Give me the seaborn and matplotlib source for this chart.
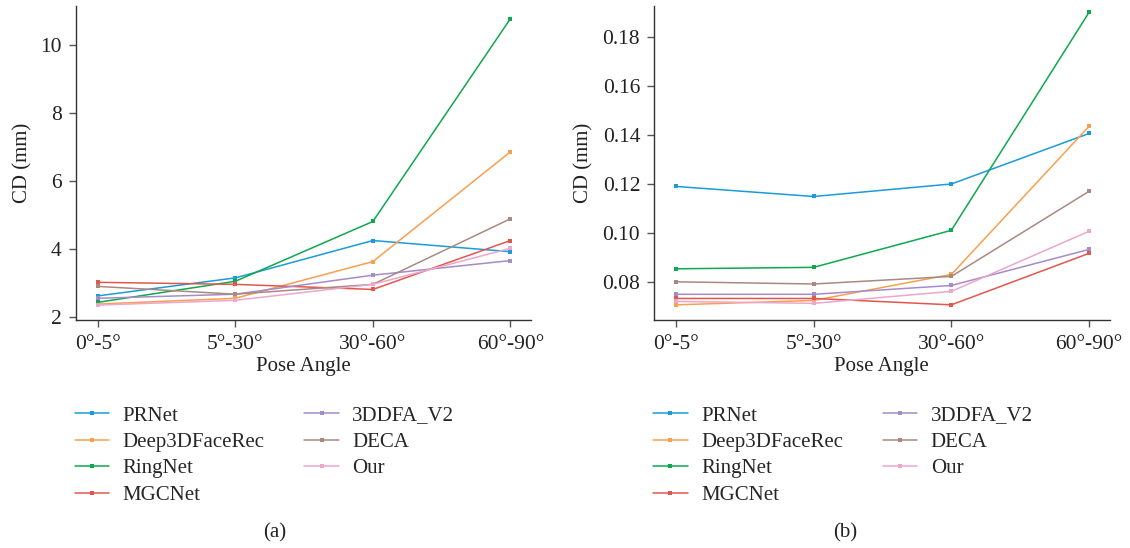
import pandas as pd
import seaborn as sns
import matplotlib.pyplot as plt

#Pose angle bins
angles = ["0°-5°", "5°-30°", "30°-60°", "60°-90°"]
methods = ["PRNet", "Deep3DFaceRec", "RingNet", "MGCNet", "3DDFA_V2", "DECA", "Our"]

#CD (mm) values for panel (a)
cd_a_prnet = [2.62, 3.15, 4.25, 3.92]
cd_a_deep3d = [2.38, 2.55, 3.63, 6.86]
cd_a_ringnet = [2.43, 3.05, 4.81, 10.78]
cd_a_mgcnet = [3.02, 2.96, 2.81, 4.25]
cd_a_3ddfa = [2.55, 2.67, 3.23, 3.66]
cd_a_deca = [2.90, 2.67, 2.96, 4.89]
cd_a_our = [2.35, 2.49, 2.96, 4.02]

#CD (mm) values for panel (b)
cd_b_prnet = [0.1189, 0.1148, 0.1199, 0.1405]
cd_b_deep3d = [0.0706, 0.0724, 0.0830, 0.1434]
cd_b_ringnet = [0.0853, 0.0859, 0.1010, 0.1899]
cd_b_mgcnet = [0.0732, 0.0732, 0.0706, 0.0916]
cd_b_3ddfa = [0.0749, 0.0749, 0.0785, 0.0932]
cd_b_deca = [0.0800, 0.0791, 0.0822, 0.1169]
cd_b_our = [0.0720, 0.0712, 0.0761, 0.1006]

colors = ["#1b9bd7", "#f7a04f", "#0ea84f", "#e2574c", "#a68bc9", "#a88a80", "#eda6cc"]


def make_frame(series):
    rows = []
    for name, vals in zip(methods, series):
        for a, v in zip(angles, vals):
            rows.append({"Pose Angle": a, "CD (mm)": v, "Method": name})
    return pd.DataFrame(rows)


data_a = make_frame([cd_a_prnet, cd_a_deep3d, cd_a_ringnet, cd_a_mgcnet, cd_a_3ddfa, cd_a_deca, cd_a_our])
data_b = make_frame([cd_b_prnet, cd_b_deep3d, cd_b_ringnet, cd_b_mgcnet, cd_b_3ddfa, cd_b_deca, cd_b_our])

sns.set_style("ticks")
plt.rcParams["font.family"] = ["Liberation Serif", "DejaVu Serif"]
plt.rcParams["font.size"] = 15

fig = plt.figure(figsize=(11.3, 5.48), dpi=100)
ax1 = fig.add_axes([0.067, 0.416, 0.403, 0.573])
ax2 = fig.add_axes([0.5788, 0.416, 0.4032, 0.573])

panels = [(ax1, data_a, (1.91, 11.15), [2, 4, 6, 8, 10], "(a)", 0.243),
          (ax2, data_b, (0.0644, 0.1925), [0.08, 0.10, 0.12, 0.14, 0.16, 0.18], "(b)", 0.748)]

for ax, d, ylim, yticks, cap, capx in panels:
    sns.lineplot(x="Pose Angle", y="CD (mm)", hue="Method", data=d, palette=colors,
                 marker="s", markersize=2.6, markeredgewidth=0, linewidth=1.1, ax=ax)
    ax.set_xlim(-0.16, 3.15)
    ax.set_ylim(*ylim)
    ax.set_yticks(yticks)
    if cap == "(b)":
        ax.set_yticklabels(["%.2f" % t for t in yticks])
    sns.despine(ax=ax)
    for s in ["left", "bottom"]:
        ax.spines[s].set_linewidth(1.0)
        ax.spines[s].set_color("#333333")
    ax.tick_params(axis="both", length=5, width=1.0, color="#555555", labelsize=15.5, labelcolor="#222222")
    ax.tick_params(axis="x", pad=6)
    ax.tick_params(axis="y", pad=5)
    ax.set_xlabel("Pose Angle", fontsize=15, color="#222222", labelpad=2)
    ax.set_ylabel("CD (mm)", fontsize=15, color="#222222", labelpad=6)
    ax.legend(loc="upper left", bbox_to_anchor=(-0.02, -0.247), ncol=2, frameon=False,
              handlelength=1.65, handletextpad=0.65, columnspacing=1.9, labelspacing=0.33,
              fontsize=15, borderaxespad=0)
    fig.text(capx, 0.027, cap, ha="center", va="center", fontsize=15, color="#222222")

fig.savefig("out.png", dpi=100)
